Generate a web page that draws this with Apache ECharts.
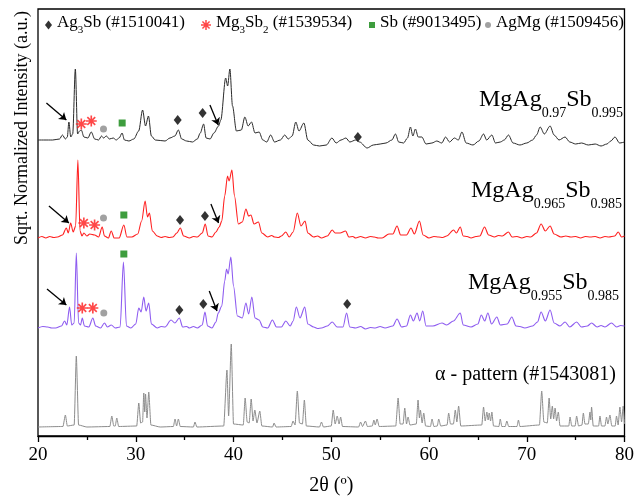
<!DOCTYPE html>
<html>
<head>
<meta charset="utf-8">
<script src="https://cdn.jsdelivr.net/npm/echarts@6/dist/echarts.min.js"></script>
<style>
  html, body { margin: 0; padding: 0; background: #fff; }
  #chart { width: 637px; height: 503px; }
</style>
</head>
<body>
<div id="chart"></div>
<script>
// 2θ / intensity pairs (traces already carry their vertical offset)
const blackTrace = [
  [20.0,296],[21.5,296],[22.2,297],[22.5,301],[22.8,297],[23.0,299],[23.16,314],[23.35,299],[23.55,302],
  [23.82,367],[24.05,302],[24.25,305],[24.43,306],[24.7,299],[25.1,298],[25.45,304],[25.8,297],[26.2,296],
  [26.5,300],[26.7,298],[27.0,300],[27.3,297],[27.7,298],[28.0,296],[28.3,298],[28.6,303],[28.85,296],
  [29.3,295],[29.8,297],[30.3,305],[30.7,326],[31.0,310],[31.3,320],[31.6,300],[32.0,296],[33.0,295],
  [33.5,298],[34.0,300],[34.36,306],[34.7,297],[35.2,295],[35.8,294],[36.3,297],[36.6,303],[36.94,312],
  [37.2,298],[37.6,297],[38.0,303],[38.47,310],[38.7,316],[39.2,358],[39.4,350],[39.63,367],[39.9,330],
  [40.3,305],[40.8,306],[41.16,319],[41.5,310],[41.84,314],[42.2,303],[42.62,304],[43.0,296],[43.4,294],
  [43.8,301],[44.2,294],[44.8,296],[45.24,301],[45.6,297],[46.0,300],[46.37,314],[46.7,305],[47.2,313],
  [47.6,296],[48.2,291],[48.8,290],[49.5,291],[50.07,298],[50.5,293],[51.0,296],[51.5,298],[51.9,294],
  [52.5,296],[52.9,294],[53.67,288],[54.3,291],[55.0,292],[55.6,293],[56.2,296],[56.57,302],[56.9,294],
  [57.4,293],[57.8,298],[58.1,309],[58.35,300],[58.61,307],[58.9,299],[59.26,299],[59.7,292],[60.3,293],
  [60.8,295],[61.3,293],[61.7,299],[62.1,294],[62.6,298],[63.0,296],[63.37,304],[63.8,293],[64.5,291],
  [65.1,295],[65.58,302],[65.9,296],[66.43,301],[66.8,293],[67.3,294],[67.7,296],[68.13,301],[68.6,293],
  [69.3,291],[70.0,293],[70.6,296],[71.0,301],[71.37,309],[71.8,302],[72.39,310],[72.8,301],[73.3,296],
  [73.92,299],[74.4,294],[75.0,292],[75.6,293],[76.3,291],[77.0,292],[77.6,290],[78.2,292],[78.6,295],
  [79.02,299],[79.5,293],[80.0,294]
];
const redTrace = [
  [20.0,198],[20.4,199.5],[20.8,198],[21.2,199.5],[21.6,198.5],[22.0,199],[22.5,201],[22.9,208],[23.1,203],[23.34,213],[23.6,204],[23.85,210],
  [24.08,276],[24.3,205],[24.5,200],[24.69,203],[25.0,200],[25.3,202],[25.79,201],[26.2,199],[26.57,209],
  [26.8,200],[27.2,198],[27.49,205],[27.8,198],[28.3,198],[28.78,211],[29.1,199],[29.6,199],[30.2,202],
  [30.6,215],[30.96,235],[31.2,219],[31.4,223],[31.7,205],[32.2,200],[32.6,198.5],[33.0,199.5],[33.4,198.5],[33.8,199],[34.2,203],
  [34.56,208],[34.9,200],[35.5,198],[35.9,199.5],[36.3,199],[36.8,203],[37.11,212],[37.4,200],[37.8,199],[38.2,204],
  [38.54,209],[38.8,215],[39.1,240],[39.39,260],[39.55,255],[39.84,266],[40.1,240],[40.5,212],[40.9,214],
  [41.27,227],[41.55,220],[41.78,221],[42.1,212],[42.55,214],[42.9,203],[43.5,199],[43.9,200.5],[44.2,199],[44.6,198.5],[44.9,200],
  [45.35,204],[45.7,199],[46.1,204],[46.53,223],[46.9,210],[47.32,215],[47.6,203],[48.2,199],[48.6,200],[49.0,198],
  [49.6,200],[50.1,206],[50.4,203],[50.9,203],[51.47,205],[51.8,199],[52.2,199.5],[52.5,198],[53.0,199.5],[53.5,198],[54.0,199.5],[54.4,199],
  [54.8,198],[55.2,198],[55.9,202],[56.3,202],[56.73,210],[57.1,201],[57.7,201],[58.16,208],[58.5,202],[59.02,215],
  [59.4,201],[60.0,198],[60.5,199.5],[61.0,199],[61.4,198.5],[61.8,200],[62.52,206],[62.8,203],[63.2,209],[63.5,200],[63.9,199.5],[64.3,198],
  [64.8,199.5],[65.2,200],[65.68,209],[66.1,201],[66.7,199],[67.1,200.5],[67.5,200],[68.13,204],[68.5,199],[69.0,199.5],[69.5,198],[70.0,199.5],[70.4,199],
  [71.0,203],[71.47,212],[71.9,205],[72.39,210],[72.8,202],[73.5,199],[74.0,200],[74.5,199],[75.0,199.5],[75.5,198],[76.0,199.5],[76.5,199],
  [77.0,199.5],[77.5,198],[78.0,199.5],[78.4,199],[79.0,200],[79.36,204],[79.7,199],[80.0,200]
];
const purpleTrace = [
  [20.0,108],[20.5,109.5],[21.0,109],[21.4,108],[21.8,108],[22.4,110],[22.72,115],[22.95,111],[23.23,129],[23.45,111],[23.7,113],
  [23.92,183],[24.15,113],[24.35,111],[24.53,118],[24.75,110],[25.2,109],[25.61,118],[25.9,110],[26.4,108],
  [26.8,113],[27.1,109],[27.5,111],[27.9,108],[28.4,109],[28.74,174],[29.05,110],[29.5,108],[30.0,112],
  [30.31,128],[30.55,124],[30.82,139],[31.05,125],[31.33,133],[31.6,112],[32.2,108],[32.6,109.5],[33.0,109],[33.61,116],
  [34.0,113],[34.46,118],[34.8,109],[35.2,109.5],[35.5,108],[35.9,109.5],[36.3,108],[36.8,111],[37.08,124],[37.35,110],[37.8,108],
  [38.2,114],[38.44,123],[38.8,130],[39.1,155],[39.29,167],[39.45,162],[39.73,179],[40.0,150],[40.4,120],
  [40.9,118],[41.27,133],[41.55,122],[41.88,139],[42.2,118],[42.62,116],[43.0,109],[43.5,108],[43.98,116],
  [44.4,109],[44.9,109],[45.35,115],[45.8,110],[46.1,115],[46.43,129],[46.8,118],[47.29,129],[47.6,112],
  [48.2,109],[48.6,107.5],[49.0,108],[49.6,110],[50.1,114],[50.6,109],[51.2,109],[51.57,123],[51.9,109],[52.5,108],
  [53.0,109.5],[53.5,107],[54.0,108.5],[54.5,108],[55.0,109.5],[55.5,108],[56.3,110],[56.73,117],[57.2,109],[57.7,110],[58.1,121],[58.4,115],
  [58.78,123],[59.05,115],[59.36,125],[59.7,110],[60.4,110],[61.33,113],[61.8,111],[62.5,115],[63.2,123],
  [63.5,111],[64.3,109],[65.0,112],[65.35,121],[65.7,115],[66.02,123],[66.4,112],[66.94,119],[67.3,111],
  [68.0,112],[68.47,119],[68.9,110],[69.3,109.5],[69.8,108],[70.6,110],[71.1,114],[71.47,124],[71.9,115],[72.39,126],
  [72.8,113],[73.4,110],[73.92,114],[74.4,109],[75.1,114],[75.6,109],[76.2,110],[76.63,113],[77.2,109],
  [77.6,110.5],[78.0,109],[78.67,113],[79.2,109],[79.6,110.5],[80.0,110]
];
const grayTrace = [
  [20.0,9],[22.55,9.5],[22.8,21],[23.0,10],[23.7,11],[23.92,80],[24.15,11],[25.0,9],[27.35,9.5],[27.55,20],
  [27.75,10],[27.9,10],[28.06,18],[28.25,9.5],[30.1,10],[30.31,33],[30.5,13],[30.7,14],[30.82,43],[30.92,24],
  [31.0,42],[31.15,18],[31.33,44],[31.55,11],[32.5,9],[33.85,9.5],[34.02,17],[34.18,10],[34.36,17],[34.55,9.5],
  [35.9,9],[36.06,14],[36.25,9],[39.0,10],[39.33,66],[39.5,20],[39.77,92],[40.0,12],[41.0,11],[41.19,38],
  [41.4,14],[41.6,13],[41.81,37],[42.0,15],[42.18,26],[42.4,13],[42.69,25],[42.9,10],[44.0,9],[44.15,13],
  [44.35,9],[45.9,9.5],[46.09,15],[46.3,11],[46.53,45],[46.75,13],[47.05,12],[47.25,36],[47.45,10],[48.8,9],
  [49.0,14],[49.2,9],[50.0,10],[50.2,26],[50.4,12],[50.61,20],[50.8,12],[50.96,19],[51.15,9.5],[52.8,9],
  [53.0,14],[53.2,9.5],[53.5,15],[53.7,9.5],[54.2,10],[54.36,16],[54.5,11],[54.69,17],[54.9,9.5],[56.6,10],
  [56.84,38],[57.05,12],[57.35,12],[57.52,28],[57.7,12],[57.86,19],[58.05,11],[58.7,12],[58.88,36],[59.02,18],
  [59.12,26],[59.3,13],[59.46,23],[59.65,10],[60.15,9.5],[60.31,17],[60.5,9.5],[60.85,10],[60.99,17],[61.2,10],
  [61.85,11],[62.01,23],[62.2,12],[62.5,12],[62.69,26],[62.85,14],[63.03,30],[63.25,10],[65.4,11],[65.58,29],
  [65.75,15],[65.92,24],[66.05,16],[66.16,23],[66.3,15],[66.43,24],[66.6,10],[67.15,9.5],[67.29,17],[67.45,9.5],
  [67.8,9.5],[67.96,15],[68.15,9.5],[69.0,9.5],[69.15,16],[69.3,9.5],[71.3,11],[71.53,45],[71.75,14],[72.1,13],
  [72.29,38],[72.45,17],[72.62,30],[72.75,17],[72.9,28],[73.05,15],[73.23,24],[73.4,10],[74.3,10],[74.43,19],
  [74.6,10],[74.95,10],[75.1,20],[75.3,10],[75.65,11],[75.79,23],[75.95,12],[76.3,12],[76.47,24],[76.55,16],
  [76.63,29],[76.8,10],[77.35,10],[77.49,20],[77.65,10],[78.0,10],[78.16,19],[78.3,12],[78.51,21],[78.7,10],
  [79.05,10],[79.18,20],[79.35,11],[79.53,29],[79.7,14],[79.87,30],[80.0,12]
];

// phase markers
const ag3sbMarks = [[34.29,316],[36.84,323],[52.72,299],[34.53,216],[37.08,220],[34.46,126],[36.91,132],[51.63,132]];
const mg3sb2Marks = [[24.43,312],[25.45,315],[24.69,213],[25.79,211],[24.53,128],[25.61,128]];
const sbMarks = [[28.61,313],[28.78,221],[28.78,182]];
const agmgMarks = [[26.7,307],[26.7,218],[26.73,123]];

// arrows: [from, to]
const arrows = [
  [[20.86,333],[22.9,316]], [[37.59,331],[38.44,311]],
  [[21.12,230],[23.16,213]], [[37.69,232],[38.47,213]],
  [[20.92,147],[22.9,131]], [[37.52,145],[38.31,125]]
];

const xTicks = [20, 30, 40, 50, 60, 70, 80];

const serif = '"Liberation Serif", "Times New Roman", serif';
// asterisk marker
const starPath = 'path://M8.5,0L11.5,0L11.5,20L8.5,20Z M0,8.5L20,8.5L20,11.5L0,11.5Z M1.8,3.9L3.9,1.8L18.2,16.1L16.1,18.2Z M16.1,1.8L18.2,3.9L3.9,18.2L1.8,16.1Z';

const legendNames = {
  'Ag3Sb': '{t|Ag}{s|3}{t|Sb (#1510041)}',
  'Mg3Sb2': '{t|Mg}{s|3}{t|Sb}{s|2}{t| (#1539534)}',
  'Sb': '{t|Sb (#9013495)}',
  'AgMg': '{t|AgMg (#1509456)}'
};
const legendText = {
  color: '#000',
  rich: {
    t: { fontFamily: serif, fontSize: 17, lineHeight: 22, verticalAlign: 'top', color: '#000' },
    s: { fontFamily: serif, fontSize: 11, lineHeight: 11, verticalAlign: 'bottom', color: '#000' }
  }
};
function mkLegend(name, left, icon, w, h) {
  return {
    data: [name], left: left, top: 14, padding: 0, itemWidth: w, itemHeight: h, itemGap: 0,
    icon: icon, formatter: n => legendNames[n], textStyle: legendText, selectedMode: false
  };
}

const chart = echarts.init(document.getElementById('chart'));

const labelRich = {
  a: { fontFamily: serif, fontSize: 24, lineHeight: 32, verticalAlign: 'top', fill: '#000', color: '#000' },
  b: { fontFamily: serif, fontSize: 14, lineHeight: 14, verticalAlign: 'bottom', fill: '#000', color: '#000' }
};
function sampleLabel(text, right, top) {
  return {
    type: 'text', x: right, y: top, z: 10,
    style: { text: text, rich: labelRich, align: 'right', verticalAlign: 'top', fill: '#000' }
  };
}

chart.setOption({
  animation: false,
  backgroundColor: '#fff',
  grid: { left: 38, right: 11, top: 9, bottom: 67, show: true, borderColor: '#000', borderWidth: 1.3 },
  legend: [
    mkLegend('Ag3Sb', 45, 'diamond', 7, 9),
    mkLegend('Mg3Sb2', 201, starPath, 10, 10),
    mkLegend('Sb', 369, 'rect', 6, 6),
    mkLegend('AgMg', 485, 'circle', 6, 6)
  ],
  xAxis: {
    type: 'value', min: 20, max: 80, interval: 10,
    name: '2θ (º)', nameLocation: 'middle', nameGap: 40,
    nameTextStyle: { fontFamily: serif, fontSize: 20, color: '#000' },
    axisLine: { lineStyle: { color: '#000', width: 1.3 } },
    axisTick: { length: 6, lineStyle: { color: '#000', width: 1.3 } },
    minorTick: { show: true, splitNumber: 2, length: 4, lineStyle: { color: '#000', width: 1.3 } },
    splitLine: { show: false },
    axisLabel: {
      margin: 10, fontFamily: serif, fontSize: 19, color: '#000',
      formatter: v => xTicks.indexOf(v) >= 0 ? String(v) : ''
    }
  },
  yAxis: { type: 'value', min: 0, max: 427, show: false, splitLine: { show: false } },
  graphic: [
    {
      type: 'text', x: 22, y: 128, rotation: Math.PI / 2,
      style: { text: 'Sqrt. Normalized Intensity (a.u.)', font: '18px ' + serif, fill: '#000', align: 'center', verticalAlign: 'middle' }
    },
    sampleLabel('{a|MgAg}{b|0.97}{a|Sb}{b|0.995}', 623, 88),
    sampleLabel('{a|MgAg}{b|0.965}{a|Sb}{b|0.985}', 622, 179),
    sampleLabel('{a|MgAg}{b|0.955}{a|Sb}{b|0.985}', 619, 271),
    {
      type: 'text', x: 616, y: 375,
      style: { text: 'α - pattern (#1543081)', font: '20px ' + serif, fill: '#000', align: 'right', verticalAlign: 'middle' }
    }
  ],
  series: [
    { name: 'gray', type: 'line', data: grayTrace, showSymbol: false, smooth: 0.2, smoothMonotone: 'x', lineStyle: { color: '#8c8c8c', width: 1 }, z: 2 },
    { name: 'purple', type: 'line', data: purpleTrace, showSymbol: false, smooth: 0.3, smoothMonotone: 'x', lineStyle: { color: '#8e5cf0', width: 1.1 }, z: 2 },
    { name: 'red', type: 'line', data: redTrace, showSymbol: false, smooth: 0.3, smoothMonotone: 'x', lineStyle: { color: '#ff2020', width: 1.1 }, z: 2 },
    { name: 'black', type: 'line', data: blackTrace, showSymbol: false, smooth: 0.3, smoothMonotone: 'x', lineStyle: { color: '#2a2a2a', width: 1 }, z: 2 },
    { name: 'Ag3Sb', type: 'scatter', data: ag3sbMarks, symbol: 'diamond', symbolSize: [8, 10], itemStyle: { color: '#000' }, z: 5 },
    { name: 'Mg3Sb2', type: 'scatter', data: mg3sb2Marks, symbol: starPath, symbolSize: 11, itemStyle: { color: '#ff1a1a' }, z: 5 },
    { name: 'Sb', type: 'scatter', data: sbMarks, symbol: 'rect', symbolSize: 7, itemStyle: { color: '#0e850e' }, z: 5 },
    { name: 'AgMg', type: 'scatter', data: agmgMarks, symbol: 'circle', symbolSize: 7, itemStyle: { color: '#8a8a8a' }, z: 5 },
    {
      name: 'arrows', type: 'lines', coordinateSystem: 'cartesian2d', data: arrows.map(a => ({ coords: a })),
      symbol: ['none', 'arrow'], symbolSize: 7, lineStyle: { color: '#000', width: 1.3, opacity: 1 }, z: 6
    }
  ]
});
</script>
</body>
</html>
